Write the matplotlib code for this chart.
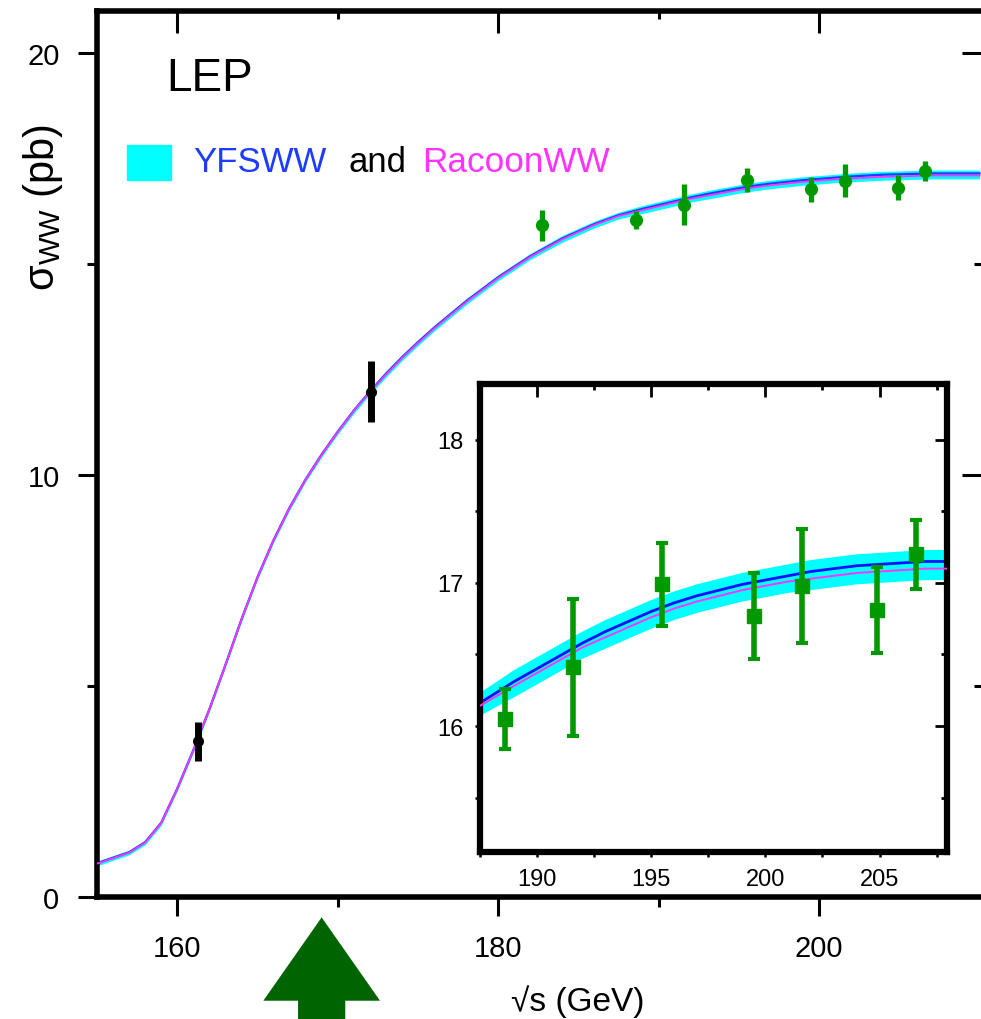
import matplotlib
matplotlib.use("Agg")
import matplotlib.pyplot as plt

plt.rcParams['font.family'] = ['Liberation Sans', 'DejaVu Sans']
plt.rcParams['mathtext.fontset'] = 'custom'
plt.rcParams['mathtext.rm'] = 'Liberation Sans'
plt.rcParams['mathtext.it'] = 'Liberation Sans:italic'

# theory curves (sqrt(s) in GeV, sigma_WW in pb)
energy = [155, 156, 157, 158, 159, 160, 161, 162, 163, 164, 165, 166, 167, 168,
          169, 170, 171, 172, 173, 174, 175, 176, 178, 180, 182, 184, 186, 187.5,
          189, 190, 191, 192, 193, 194, 195, 196, 197, 198, 199, 200, 201, 202,
          203, 204, 205, 206, 207, 208, 210]
yfsww = [0.80, 0.93, 1.06, 1.30, 1.76, 2.57, 3.48, 4.45, 5.50, 6.58, 7.58, 8.46,
         9.23, 9.90, 10.49, 11.03, 11.53, 11.98, 12.40, 12.79, 13.15, 13.49,
         14.12, 14.69, 15.19, 15.61, 15.95, 16.16, 16.31, 16.40, 16.49, 16.58,
         16.66, 16.73, 16.80, 16.86, 16.91, 16.95, 16.99, 17.02, 17.05, 17.08,
         17.10, 17.12, 17.13, 17.14, 17.15, 17.15, 17.15]
racoonww = [0.79, 0.92, 1.05, 1.29, 1.75, 2.56, 3.47, 4.44, 5.49, 6.57, 7.57,
            8.45, 9.22, 9.89, 10.48, 11.02, 11.52, 11.97, 12.38, 12.77, 13.13,
            13.47, 14.10, 14.67, 15.17, 15.59, 15.93, 16.14, 16.28, 16.37,
            16.46, 16.55, 16.62, 16.69, 16.76, 16.82, 16.87, 16.91, 16.95,
            16.98, 17.01, 17.03, 17.05, 17.07, 17.08, 17.09, 17.10, 17.10, 17.10]
theory_unc = [0.05, 0.05, 0.05, 0.05, 0.05, 0.05, 0.05, 0.05, 0.05, 0.05, 0.05,
              0.05, 0.05, 0.05, 0.05, 0.05, 0.06, 0.06, 0.06, 0.06, 0.06, 0.06,
              0.06, 0.06, 0.06, 0.07, 0.07, 0.07, 0.08, 0.08, 0.08, 0.08, 0.08,
              0.08, 0.08, 0.08, 0.08, 0.08, 0.08, 0.08, 0.08, 0.08, 0.08, 0.08,
              0.08, 0.08, 0.08, 0.08, 0.08]

# threshold measurements (black)
thr_energy = [161.3, 172.1]
thr_sigma = [3.69, 11.98]
thr_err = [0.46, 0.72]

# LEP2 measurements (green)
lep_energy = [182.7, 188.6, 191.6, 195.5, 199.5, 201.6, 204.9, 206.6]
lep_sigma = [15.92, 16.05, 16.41, 16.99, 16.77, 16.98, 16.81, 17.20]
lep_err = [0.36, 0.21, 0.48, 0.29, 0.30, 0.40, 0.30, 0.24]

arrow_energy = 169.0

CYAN = '#00ffff'
BLUE = '#1e3cff'
MAGENTA = '#ff33ff'
GREEN = '#009a00'

band_hi = [y + u for y, u in zip(yfsww, theory_unc)]
band_lo = [y - u for y, u in zip(racoonww, theory_unc)]

fig = plt.figure(figsize=(9.81, 10.2), dpi=100)
W, H = 981.0, 1020.0

# ---- main axes
ax = fig.add_axes([97 / W, 122 / H, 889 / W, 886 / H])
ax.fill_between(energy, band_lo, band_hi, color=CYAN, lw=0, zorder=1)
ax.plot(energy, yfsww, color=BLUE, lw=1.6, zorder=2, solid_joinstyle='round')
ax.plot(energy, racoonww, color=MAGENTA, lw=1.3, zorder=3, solid_joinstyle='round')
ax.errorbar(thr_energy, thr_sigma, yerr=thr_err, fmt='o', ms=7, color='black',
            elinewidth=5, capsize=0, zorder=4)
ax.errorbar(lep_energy, lep_sigma, yerr=lep_err, fmt='o', ms=8.5, color=GREEN,
            elinewidth=3.8, capsize=0, zorder=4)

ax.set_xlim(155, 210.4)
ax.set_ylim(0, 21)
for s in ax.spines.values():
    s.set_linewidth(4)
ax.set_xticks([160, 180, 200])
ax.set_xticks([170, 190], minor=True)
ax.set_yticks([0, 10, 20])
ax.set_yticks([5, 15], minor=True)
ax.tick_params(which='major', direction='out', length=14, width=2.2, labelsize=21, pad=13)
ax.tick_params(which='minor', direction='out', length=7, width=2.2)

secx = ax.secondary_xaxis('top')
secx.set_xticks([160, 180, 200])
secx.set_xticks([170, 190], minor=True)
secx.tick_params(which='major', direction='in', length=16, width=2.2, labeltop=False)
secx.tick_params(which='minor', direction='in', length=6, width=2.2)
secy = ax.secondary_yaxis('right')
secy.set_yticks([0, 10, 20])
secy.set_yticks([5, 15], minor=True)
secy.tick_params(which='major', direction='in', length=17, width=2.2, labelright=False)
secy.tick_params(which='minor', direction='in', length=8.5, width=2.2)

# arrow below the axis
ax.annotate('', xy=(arrow_energy, -0.023), xycoords=('data', 'axes fraction'),
            xytext=(arrow_energy, -0.165), textcoords=('data', 'axes fraction'),
            arrowprops=dict(facecolor='#006400', edgecolor='none', width=34,
                            headwidth=84, headlength=60),
            annotation_clip=False)

# labels and legend
fig.text(578 / W, 1 - 1002 / H, '\u221as (GeV)', ha='center', va='center', fontsize=24)
fig.text(43 / W, 1 - 207 / H, r'$\mathregular{\sigma_{WW}}$ (pb)', rotation=90,
         ha='center', va='center', fontsize=30)
fig.text(166 / W, 1 - 91 / H, 'LEP', fontsize=33, va='baseline')
fig.patches.append(plt.Rectangle((127 / W, 1 - 181 / H), 44 / W, 35 / H,
                                 transform=fig.transFigure, color=CYAN))
fig.text(193 / W, 1 - 172 / H, 'YFSWW', color=BLUE, fontsize=25, va='baseline')
fig.text(349 / W, 1 - 172 / H, 'and', color='black', fontsize=25, va='baseline')
fig.text(422 / W, 1 - 172 / H, 'RacoonWW', color=MAGENTA, fontsize=25.3, va='baseline')

# ---- inset
ins = fig.add_axes([479.6 / W, 167 / H, 467.4 / W, 468 / H])
ins.set_zorder(5)
ins.fill_between(energy, band_lo, band_hi, color=CYAN, lw=0, zorder=1)
ins.plot(energy, yfsww, color='#1010ff', lw=2.0, zorder=2, solid_joinstyle='round')
ins.plot(energy, racoonww, color=MAGENTA, lw=1.4, zorder=3, solid_joinstyle='round')
ins.errorbar(lep_energy, lep_sigma, yerr=lep_err, fmt='s', ms=10, color=GREEN,
             elinewidth=4, capsize=4, capthick=3, zorder=4)
ins.set_xlim(187.55, 207.95)
ins.set_ylim(15.12, 18.39)
for s in ins.spines.values():
    s.set_linewidth(4.5)
ins.set_xticks([190, 195, 200, 205])
ins.set_xticks([187.5, 192.5, 197.5, 202.5, 207.5], minor=True)
ins.set_yticks([16, 17, 18])
ins.set_yticks([15.5, 16.5, 17.5], minor=True)
ins.tick_params(which='both', direction='out', length=3.5, width=1.8, labelsize=17, pad=8)

isx = ins.secondary_xaxis('top')
isx.set_xticks([190, 195, 200, 205])
isx.set_xticks([187.5, 192.5, 197.5, 202.5, 207.5], minor=True)
isx.tick_params(which='major', direction='in', length=9, width=2, labeltop=False)
isx.tick_params(which='minor', direction='in', length=4, width=2)
isy = ins.secondary_yaxis('right')
isy.set_yticks([16, 17, 18])
isy.set_yticks([15.5, 16.5, 17.5], minor=True)
isy.tick_params(which='major', direction='in', length=9, width=2, labelright=False)
isy.tick_params(which='minor', direction='in', length=4, width=2)

fig.savefig('out.png', dpi=100)
